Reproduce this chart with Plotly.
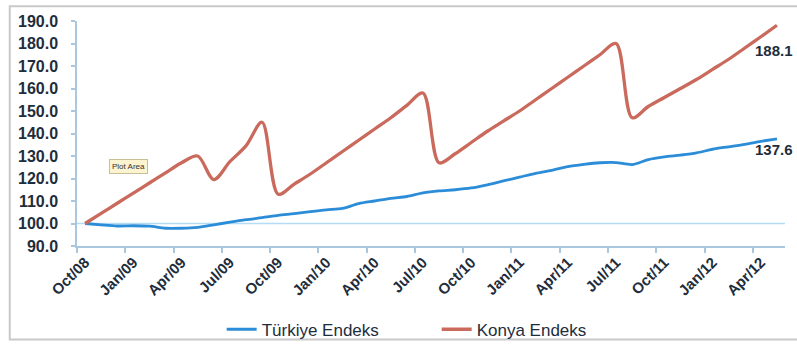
import plotly.graph_objects as go

MONTHS = ["Oct/08", "Nov/08", "Dec/08", "Jan/09", "Feb/09", "Mar/09", "Apr/09", "May/09",
          "Jun/09", "Jul/09", "Aug/09", "Sep/09", "Oct/09", "Nov/09", "Dec/09", "Jan/10",
          "Feb/10", "Mar/10", "Apr/10", "May/10", "Jun/10", "Jul/10", "Aug/10", "Sep/10",
          "Oct/10", "Nov/10", "Dec/10", "Jan/11", "Feb/11", "Mar/11", "Apr/11", "May/11",
          "Jun/11", "Jul/11", "Aug/11", "Sep/11", "Oct/11", "Nov/11", "Dec/11", "Jan/12",
          "Feb/12", "Mar/12", "Apr/12", "May/12"]

TURKIYE = [100.0, 99.4, 98.9, 99.0, 98.8, 97.9, 97.9, 98.3, 99.4, 100.6, 101.7, 102.6,
           103.6, 104.4, 105.3, 106.1, 106.7, 108.8, 110.0, 111.2, 112.0, 113.6, 114.5, 115.0,
           115.8, 117.2, 118.9, 120.6, 122.3, 123.6, 125.3, 126.3, 127.0, 127.1, 126.2, 128.4,
           129.6, 130.4, 131.4, 133.0, 134.1, 135.2, 136.5, 137.6]

KONYA = [100.0, 104.5, 109.0, 113.5, 118.0, 122.5, 127.0, 130.0, 119.5, 127.5, 134.5, 145.0,
         113.0, 117.5, 122.0, 127.0, 132.0, 137.0, 142.0, 147.0, 152.5, 158.0, 127.0, 131.0,
         136.0, 141.0, 145.5, 150.0, 155.0, 160.0, 165.0, 170.0, 175.0, 180.0, 147.0, 152.0,
         156.0, 160.0, 164.0, 168.5, 173.0, 178.0, 183.0, 188.1]

SERIES_NAMES = ["Türkiye Endeks", "Konya Endeks"]
Y_TICKS = [90, 100, 110, 120, 130, 140, 150, 160, 170, 180, 190]
BASE_LEVEL = 100
LABEL_EVERY = 3

x = list(range(len(MONTHS)))
tick_idx = x[::LABEL_EVERY]
tick_txt = MONTHS[::LABEL_EVERY]

BLUE = "#2b8cd8"
RED = "#c96a5c"
AXIS = "#a9c8e0"
TXT = "#1e2d3c"
FONT = "Liberation Sans, Arial"

fig = go.Figure()
fig.add_hline(y=BASE_LEVEL, line=dict(color="#b5dcf5", width=1.5), layer="below")
fig.add_trace(go.Scatter(x=x, y=TURKIYE, mode="lines", name=SERIES_NAMES[0],
                         line=dict(color=BLUE, width=2.8, shape="spline", smoothing=0.8)))
fig.add_trace(go.Scatter(x=x, y=KONYA, mode="lines", name=SERIES_NAMES[1],
                         line=dict(color=RED, width=3.3, shape="spline", smoothing=0.9)))

for series, shift in ((TURKIYE, -11), (KONYA, -25)):
    fig.add_annotation(x=x[-1], y=series[-1], text=f"<b>{series[-1]:.1f}</b>", showarrow=False,
                       xanchor="right", yanchor="middle", yshift=shift, xshift=18,
                       font=dict(family=FONT, size=15, color=TXT))

fig.add_annotation(xref="paper", yref="paper", x=0.045, xanchor="left", y=0.352, text="Plot Area",
                   showarrow=False, font=dict(family=FONT, size=8, color="#333"),
                   bgcolor="#fcf3cf", bordercolor="#c9bf96", borderwidth=1, borderpad=2)

fig.add_shape(type="rect", xref="paper", yref="paper", x0=-0.095, x1=1.1, y0=-0.416, y1=1.066,
              line=dict(color="#c9c9c9", width=2), fillcolor="rgba(0,0,0,0)", layer="below")

fig.update_layout(
    width=797, height=360,
    margin=dict(l=77, r=12, t=21, b=104),
    paper_bgcolor="white", plot_bgcolor="white",
    font=dict(family=FONT, size=15, color=TXT),
    showlegend=True,
    legend=dict(orientation="h", x=0.508, xanchor="center", y=-0.372, yanchor="middle",
                font=dict(size=17, color=TXT), entrywidth=170, bgcolor="rgba(0,0,0,0)"),
    xaxis=dict(range=[-0.5, len(MONTHS) - 0.5], tickmode="array", tickvals=tick_idx,
               ticktext=[f"<b>{t}</b>" for t in tick_txt], tickangle=-45, ticks="",
               showgrid=False, zeroline=False,
               showline=True, linecolor=AXIS, linewidth=1.5,
               tickfont=dict(size=15, color=TXT),
               minor=dict(tickmode="linear", tick0=-0.5, dtick=LABEL_EVERY, ticks="outside",
                          ticklen=5, tickcolor=AXIS, tickwidth=1.5, showgrid=False)),
    yaxis=dict(range=[Y_TICKS[0], Y_TICKS[-1]], tickmode="array", tickvals=Y_TICKS,
               ticktext=[f"<b>{v:.1f}</b>" for v in Y_TICKS],
               ticks="outside", ticklen=4, tickcolor=AXIS, tickwidth=1.5,
               ticklabelstandoff=10,
               showgrid=False, zeroline=False, showline=True, linecolor=AXIS, linewidth=1.5,
               tickfont=dict(size=16, color=TXT)),
)

fig.write_html(
    "out.html",
    config={"displayModeBar": False},
    post_script="document.body.style.margin='0';document.body.style.padding='0';"
                "document.documentElement.style.overflow='hidden';",
)
